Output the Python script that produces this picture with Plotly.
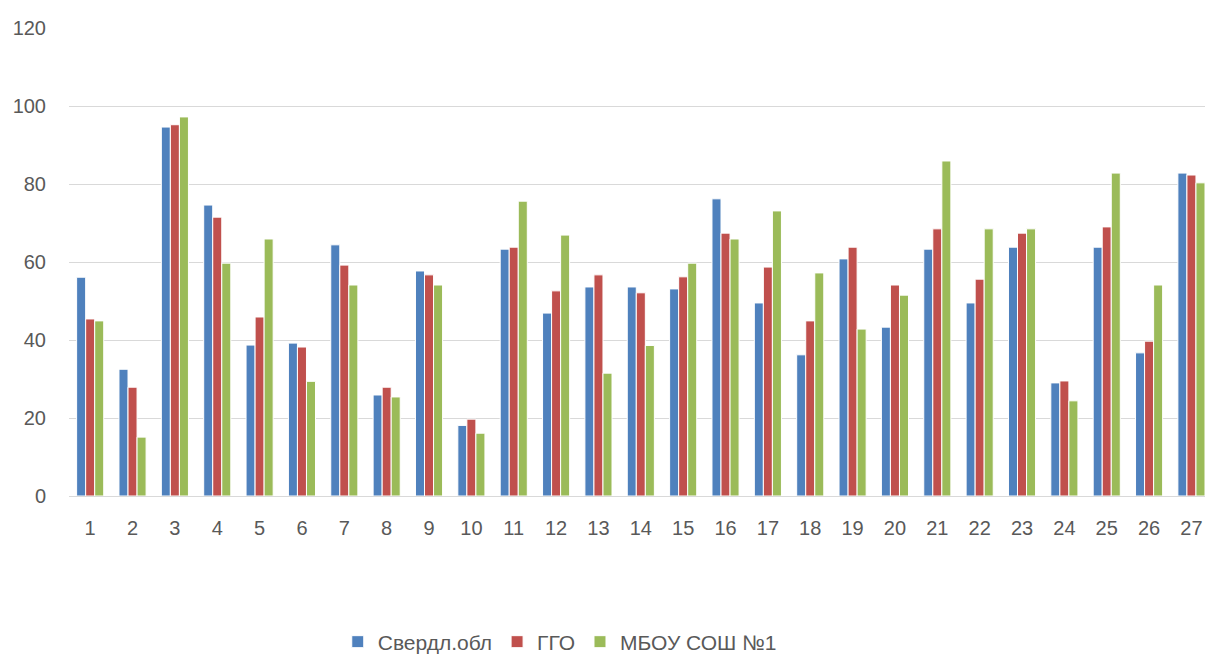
import plotly.graph_objects as go

categories = [str(i) for i in range(1, 28)]
sverdl = [56.1, 32.5, 94.6, 74.6, 38.7, 39.2, 64.4, 25.9, 57.7, 18.1, 63.3, 46.9, 53.6, 53.6,
          53.1, 76.2, 49.5, 36.2, 60.8, 43.3, 63.3, 49.5, 63.8, 29.0, 63.8, 36.7, 82.8]
ggo = [45.4, 27.9, 95.2, 71.5, 45.9, 38.2, 59.2, 27.9, 56.7, 19.7, 63.8, 52.6, 56.7, 52.1,
       56.2, 67.4, 58.7, 44.9, 63.8, 54.1, 68.5, 55.6, 67.4, 29.5, 69.0, 39.7, 82.3]
mbou = [44.9, 15.1, 97.2, 59.7, 65.9, 29.4, 54.1, 25.4, 54.1, 16.1, 75.6, 66.9, 31.5, 38.6,
        59.7, 65.9, 73.1, 57.2, 42.8, 51.5, 85.9, 68.5, 68.5, 24.4, 82.8, 54.1, 80.3]
series_names = ["Свердл.обл", "ГГО", "МБОУ СОШ №1"]
colors = ["#4F81BD", "#C0504D", "#9BBB59"]
y_ticks = [0, 20, 40, 60, 80, 100, 120]

fig = go.Figure()
for name, vals, col in zip(series_names, [sverdl, ggo, mbou], colors):
    fig.add_trace(go.Bar(x=list(range(1, 28)), y=vals, name=name,
                         marker=dict(color=col, line=dict(color="white", width=1))))

font_color = "#595959"
fig.update_layout(
    width=1205, height=657,
    margin=dict(l=69, r=0, t=28, b=161, autoexpand=False),
    paper_bgcolor="white", plot_bgcolor="white",
    barmode="group", bargap=0.36, bargroupgap=0.0,
    font=dict(family="Liberation Sans, Arial, sans-serif", size=20, color=font_color),
    legend=dict(orientation="h", x=0.432, xanchor="center", y=-0.312, yanchor="middle",
                font=dict(size=21, color=font_color), itemwidth=30, traceorder="normal"),
    xaxis=dict(range=[0.5, 27.32], tickmode="array", tickvals=list(range(1, 28)),
               ticktext=categories, showgrid=False, zeroline=False, showline=False,
               ticks="", ticklabelstandoff=18, automargin=False,
               tickfont=dict(size=20, color=font_color)),
    yaxis=dict(range=[0, 120], tickvals=y_ticks, showgrid=True, gridcolor="#d9d9d9",
               gridwidth=1, zeroline=True, zerolinecolor="#d9d9d9", zerolinewidth=1,
               ticks="", ticklabelstandoff=22, automargin=False,
               tickfont=dict(size=20, color=font_color)),
    showlegend=True,
)

fig.write_html(
    "out.html",
    config={"displayModeBar": False},
    post_script=(
        "document.body.style.margin='0';"
        "document.documentElement.style.overflow='hidden';"
        "document.body.style.overflow='hidden';"
    ),
)
